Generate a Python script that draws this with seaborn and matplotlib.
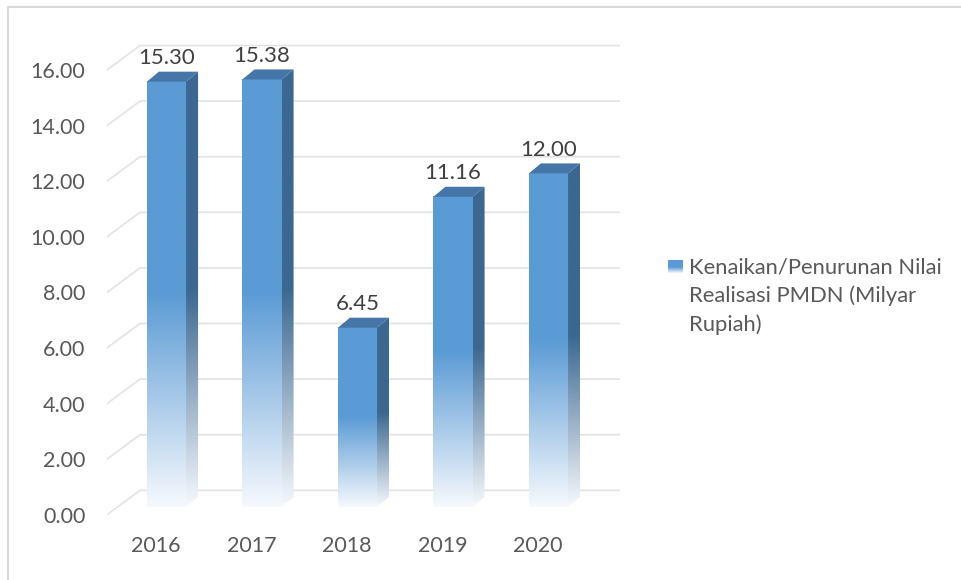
import numpy as np
import pandas as pd
import seaborn as sns
import matplotlib.pyplot as plt
from matplotlib.colors import to_rgba
from matplotlib.lines import Line2D
from matplotlib.patches import Polygon

sns.set_style("white")
plt.rcParams["font.family"] = ["Lato", "DejaVu Sans"]

years = ["2016", "2017", "2018", "2019", "2020"]
values = [15.30, 15.38, 6.45, 11.16, 12.00]
y_ticks = [0, 2, 4, 6, 8, 10, 12, 14, 16]
legend_label = "Kenaikan/Penurunan Nilai\nRealisasi PMDN (Milyar\nRupiah)"

FRONT = "#5b9bd5"
SIDE = "#3b6790"
TOP = "#4676a8"
GRID = "#e3e3e3"
TEXT = "#595959"
FS = 15.5

W, H = 962, 580
# pixel -> data mapping of the bar plane
X0, XS = 166.5, 95.5
Y0, YS = 507.0, 27.8
DX, DY = 12 / XS, 10 / YS          # bar depth
FRONT_OFF, BACK_OFF = -0.28, 0.60   # floor/wall grid offsets (value units)


def fade(color, n=256, solid=0.5):
    """column image: solid colour on top, fading to white at the bottom"""
    c = np.array(to_rgba(color))
    w = np.array(to_rgba("#f6f9fd"))
    t = np.linspace(0, 1, n)
    k = np.clip((t - solid) / (1 - solid), 0, 1)[:, None]
    img = c * (1 - k) + w * k
    return img[:, None, :]


fig = plt.figure(figsize=(W / 100, H / 100), dpi=100)
ax = fig.add_axes([107 / W, (H - 525) / H, (620 - 107) / W, (525 - 30) / H])

df = pd.DataFrame({"year": years, "value": values})
sns.barplot(data=df, x="year", y="value", color=FRONT, width=0.41,
            saturation=1, ax=ax, zorder=3)

xlim = ((107 - X0) / XS, (620 - X0) / XS)
ylim = ((Y0 - 525) / YS, (Y0 - 30) / YS)

# grid lines: short diagonal on the floor, then along the back wall
x_back = (140 - X0) / XS
for v in y_ticks:
    ax.plot([xlim[0], x_back, xlim[1]], [v + FRONT_OFF, v + BACK_OFF, v + BACK_OFF],
            color=GRID, lw=1.2, zorder=1)

for p, v in zip(list(ax.patches), values):
    x, w, h = p.get_x(), p.get_width(), p.get_height()
    p.set_facecolor("none")
    p.set_edgecolor("none")
    # front face with gradient
    ax.imshow(fade(FRONT), extent=(x, x + w, 0, h), aspect="auto",
              origin="upper", zorder=4)
    # side face
    side = Polygon([(x + w, 0), (x + w + DX, DY), (x + w + DX, h + DY), (x + w, h)],
                   closed=True, facecolor="none", edgecolor="none")
    ax.add_patch(side)
    im = ax.imshow(fade(SIDE), extent=(x + w, x + w + DX, 0, h + DY), aspect="auto",
                   origin="upper", zorder=4)
    im.set_clip_path(side)
    # top face
    ax.add_patch(Polygon([(x, h), (x + DX, h + DY), (x + w + DX, h + DY), (x + w, h)],
                         closed=True, facecolor=TOP, edgecolor="none", zorder=5))
    ax.text(x + w / 2, h + 0.85, f"{v:.2f}", ha="center", va="center",
            fontsize=16, color="#404040", zorder=6)

ax.set_xlim(*xlim)
ax.set_ylim(*ylim)
ax.set_xticks([i - 0.11 for i in range(len(years))], years)
ax.set_yticks([v + FRONT_OFF for v in y_ticks], [f"{v:.2f}" for v in y_ticks])
ax.tick_params(axis="both", length=0, labelsize=FS, labelcolor=TEXT)
ax.tick_params(axis="y", pad=15.5)
ax.tick_params(axis="x", pad=8)
ax.set(xlabel="", ylabel="")
sns.despine(ax=ax, left=True, bottom=True)

# legend
lax = fig.add_axes([668 / W, (H - 273) / H, 15 / W, 13 / H])
lax.imshow(fade(FRONT, solid=0.55), aspect="auto", origin="upper")
lax.axis("off")
fig.text(689 / W, (H - 296) / H, legend_label, ha="left", va="center",
         fontsize=15.8, color=TEXT, linespacing=1.5)

# chart frame (top and left edges visible)
fig.add_artist(Line2D([8 / W, 1], [1 - 7 / H, 1 - 7 / H], color="#d9d9d9", lw=1.5,
                      transform=fig.transFigure))
fig.add_artist(Line2D([8 / W, 8 / W], [0, 1 - 7 / H], color="#d9d9d9", lw=1.5,
                      transform=fig.transFigure))

fig.savefig("out.png", dpi=100)
